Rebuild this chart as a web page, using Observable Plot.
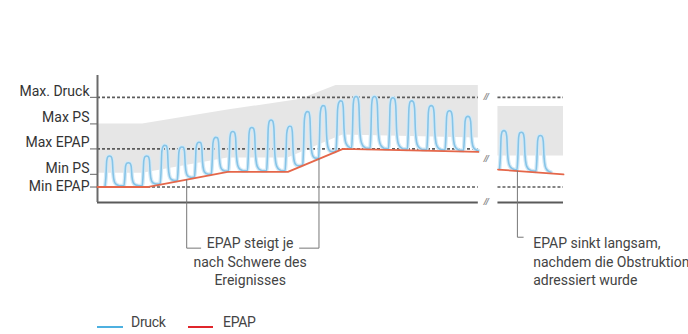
<!DOCTYPE html>
<html><head><meta charset="utf-8">
<script src="https://cdn.jsdelivr.net/npm/d3@7"></script>
<script src="https://cdn.jsdelivr.net/npm/@observablehq/plot@0.6"></script>
<style>
body{margin:0;background:#fff;font-family:Roboto,sans-serif;}
#wrap{position:relative;width:688px;height:334px;overflow:hidden;}
.lg{position:absolute;font:14px Roboto,sans-serif;color:#444;letter-spacing:-0.3px;line-height:18px;}
.sw{position:absolute;height:2px;}
</style></head><body>
<div id="wrap"><div id="chart"></div>
<span class="sw" style="left:97px;top:326px;width:26px;background:#4db0e0"></span>
<span class="lg" style="left:131px;top:313px">Druck</span>
<span class="sw" style="left:188px;top:326px;width:25px;background:#e0252b"></span>
<span class="lg" style="left:223px;top:313px">EPAP</span>
</div>
<script>
// Pressure levels on the y axis
const levelLabels = ["Min EPAP", "Min PS", "Max EPAP", "Max PS", "Max. Druck"];
const levelValues = [3.9, 7.1, 13.5, 19.8, 26.5];

// Panels (time ranges) before and after the break
const panelStart = [0, 99.9];
const panelEnd = [95, 116.25];

// Breath peaks (time, pressure)
const peakTime1 = [3.0, 7.7, 12.25, 16.75, 21.0, 25.3, 29.5, 33.75, 38.5, 43.3, 47.9, 52.3, 56.25, 60.6, 64.5, 69.1, 73.7, 78.4, 83.25, 87.8, 92.4];
const peakPressure1 = [11.7, 10.0, 11.7, 14.4, 14.0, 15.2, 16.4, 17.9, 18.9, 20.8, 19.2, 22.9, 24.4, 25.6, 26.7, 26.7, 26.4, 25.6, 24.4, 23.1, 21.7];
const peakTime2 = [101.4, 105.75, 110.5];
const peakPressure2 = [18.1, 17.7, 16.9];

// Breath shape: time offset from peak, fraction of peak height above baseline
const pulseOffset = [-1.1, -0.9, -0.7, -0.4, 0, 0.4, 0.7, 0.9, 1.2, 1.6, 2.1, 2.6];
const pulseFraction = [0, 0.3, 0.85, 0.98, 1, 0.98, 0.85, 0.4, 0.15, 0.06, 0.02, 0];

// EPAP line
const epapTime1 = [0, 12.4, 32.5, 47.5, 61.25, 95];
const epapValue1 = [3.9, 3.9, 7.7, 7.7, 13.5, 12.75];
const epapTime2 = [99.9, 116.25];
const epapValue2 = [8.3, 7.1];

// Pressure support band (gray)
const bandTime1 = [0, 11.25, 32.5, 47.5, 50.75, 59.5, 61.25, 95];
const bandTop1 = [19.8, 19.8, 23.3, 25.5, 26, 29.5, 29.5, 29.5];
const bandBottom1 = [7.4, 7.4, 11.2, 11.2, 12.6, 16.3, 17, 16.25];
const bandTime2 = [99.9, 116.25];
const bandTop2 = [24.2, 24.2];
const bandBottom2 = [11.7, 11.7];

// Annotations
const noteLeftText = "EPAP steigt je\nnach Schwere des\nEreignisses";
const noteRightText = "EPAP sinkt langsam,\nnachdem die Obstruktion\nadressiert wurde";
const noteLeftAnchors = [22.25, 55.25];
const noteLeftEnds = [25.75, 50.4];
const noteRightAnchor = 104.75;
const noteRightEnd = 106.2;
const noteTextY = -14.7;
const hookLeftY = -11.5;
const hookRightY = -8.75;
const breakX = 97;
const breakValues = [26.5, 10.9, 0.2];

// ---- build tables ----
const epapAt1 = d3.scaleLinear(epapTime1, epapValue1);
const epapAt2 = d3.scaleLinear(epapTime2, epapValue2);
const pressure = [];
function addPulses(times, peaks, epapAt, panel) {
  times.forEach((t, i) => {
    const base0 = epapAt(t) + 0.3;
    pulseOffset.forEach((dt, k) => {
      const tt = t + dt;
      pressure.push({panel, t: tt, p: epapAt(tt) + 0.3 + pulseFraction[k] * (peaks[i] - base0)});
    });
  });
}
addPulses(peakTime1, peakPressure1, epapAt1, 1);
addPulses(peakTime2, peakPressure2, epapAt2, 2);

const epap = [
  ...epapTime1.map((t, i) => ({panel: 1, t, v: epapValue1[i]})),
  ...epapTime2.map((t, i) => ({panel: 2, t, v: epapValue2[i]}))
];
const band = [
  ...bandTime1.map((t, i) => ({panel: 1, t, top: bandTop1[i], bottom: bandBottom1[i]})),
  ...bandTime2.map((t, i) => ({panel: 2, t, top: bandTop2[i], bottom: bandBottom2[i]}))
];
const levels = levelLabels.map((label, i) => ({label, value: levelValues[i]}));
const dashRows = [];
[["Max. Druck", [0, 1]], ["Max EPAP", [0]], ["Min EPAP", [0, 1]]].forEach(([lab, ps]) => {
  ps.forEach(p => dashRows.push({value: levelValues[levelLabels.indexOf(lab)], x1: panelStart[p], x2: panelEnd[p]}));
});
const panels = panelStart.map((s, i) => ({x1: s, x2: panelEnd[i]}));

const callouts = [
  {id: "a", t: noteLeftAnchors[0], y: epapAt1(noteLeftAnchors[0])},
  {id: "a", t: noteLeftAnchors[0], y: hookLeftY},
  {id: "a", t: noteLeftEnds[0], y: hookLeftY},
  {id: "b", t: noteLeftAnchors[1], y: epapAt1(noteLeftAnchors[1])},
  {id: "b", t: noteLeftAnchors[1], y: hookLeftY},
  {id: "b", t: noteLeftEnds[1], y: hookLeftY},
  {id: "c", t: noteRightAnchor, y: epapAt2(noteRightAnchor)},
  {id: "c", t: noteRightAnchor, y: hookRightY},
  {id: "c", t: noteRightEnd, y: hookRightY}
];

const chart = Plot.plot({
  width: 688,
  height: 300,
  marginLeft: 97,
  marginRight: 125,
  marginTop: 75,
  marginBottom: 98,
  x: {domain: [0, 116.25], axis: null},
  y: {domain: [0, 32], axis: null},
  style: {fontFamily: "Roboto, sans-serif", background: "transparent", overflow: "visible"},
  marks: [
    Plot.areaY(band, {x: "t", y1: "bottom", y2: "top", z: "panel", fill: "#e6e6e6"}),
    Plot.ruleY(dashRows, {y: "value", x1: "x1", x2: "x2", stroke: "#5c5c5c", strokeWidth: 1.6, strokeDasharray: "3,2"}),
    Plot.ruleY(panels, {y: 0, x1: "x1", x2: "x2", stroke: "#5a5a5a", strokeWidth: 2}),
    Plot.ruleX([0], {y1: 0, y2: 32, stroke: "#6a6a6a", strokeWidth: 2}),
    Plot.axisY({ticks: levelValues, tickSize: 7, tickFormat: () => "", stroke: "#666"}),
    Plot.text(levels.filter(d => d.label !== "Min EPAP"), {x: 0, y: "value", text: "label", textAnchor: "end", dx: -8, dy: -6, fontSize: 14, fill: "#333", letterSpacing: "-0.3px"}),
    Plot.text(levels.filter(d => d.label === "Min EPAP"), {x: 0, y: "value", text: "label", textAnchor: "end", dx: -8, dy: -1, fontSize: 14, fill: "#333", letterSpacing: "-0.3px"}),
    Plot.line(pressure, {x: "t", y: "p", z: "panel", stroke: "#d3e9f6", strokeWidth: 4, curve: "monotone-x"}),
    Plot.line(pressure, {x: "t", y: "p", z: "panel", stroke: "#86c4e7", strokeWidth: 1.6, curve: "monotone-x"}),
    Plot.line(epap, {x: "t", y: "v", z: "panel", stroke: "#e5674a", strokeWidth: 1.8}),
    Plot.text(breakValues, {x: breakX, y: d => d, text: () => "//", fontSize: 9, fontWeight: "bold", fontStyle: "italic", fill: "#888"}),
    Plot.line(callouts, {x: "t", y: "y", z: "id", stroke: "#777", strokeWidth: 1}),
    Plot.text([noteLeftText], {x: (noteLeftEnds[0] + noteLeftEnds[1]) / 2, y: noteTextY, text: d => d, textAnchor: "middle", lineAnchor: "middle", lineHeight: 1.32, fontSize: 14, fill: "#444", letterSpacing: "-0.3px"}),
    Plot.text([noteRightText], {x: noteRightEnd, y: noteTextY, text: d => d, textAnchor: "start", dx: 10, lineAnchor: "middle", lineHeight: 1.32, fontSize: 14, fill: "#444", letterSpacing: "-0.3px"})
  ]
});
document.getElementById("chart").appendChild(chart);
</script>
</body></html>
